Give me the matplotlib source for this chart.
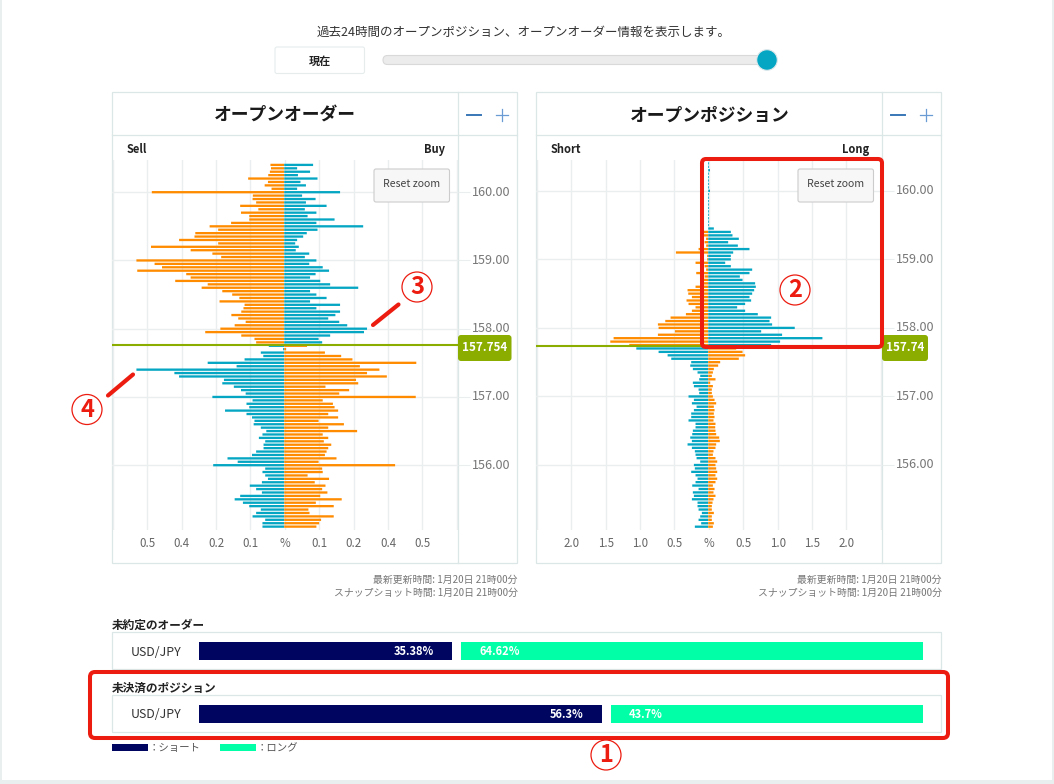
import numpy as np
import matplotlib
matplotlib.use("Agg")
import matplotlib.pyplot as plt
from matplotlib.patches import FancyBboxPatch, Rectangle, Circle, Polygon

plt.rcParams['font.family'] = ['Noto Sans CJK JP', 'DejaVu Sans']

# ---------- data ----------
order_top_price = 160.40
order_sell = [
 .050,.048,.052,.058,.131,.059,.071,.046,.481,.114,.115,.102,.160,.094,.157,.127,.127,.193,.271,.240,
 .323,.326,.382,.240,.484,.340,.261,.229,.537,.471,.444,.534,.356,.340,.396,.278,.300,.225,.189,.163,
 .235,.144,.148,.156,.192,.167,.140,.180,.232,.287,.156,.108,.102,.056,
 .004,.085,.076,.144,.278,.173,.537,.399,.382,.219,.225,.183,.157,.140,.261,.115,.137,.127,.215,.137,
 .117,.108,.111,.085,.065,.079,.092,.069,.075,.075,.102,.117,.206,.169,.258,.069,.079,.069,.059,.081,
 .125,.102,.081,.160,.180,.150,.127,.085,.102,.115,.069,.079,.079]
order_buy = [
 .105,.047,.094,.050,.121,.059,.079,.047,.203,.065,.114,.079,.154,.075,.117,.085,.183,.117,.287,.121,
 .082,.069,.047,.040,.053,.042,.091,.075,.117,.091,.140,.163,.114,.094,.131,.167,.269,.094,.117,.154,
 .094,.203,.117,.203,.186,.160,.200,.229,.301,.290,.167,.125,.138,.083,
 .007,.148,.207,.248,.480,.275,.346,.301,.373,.261,.269,.150,.236,.200,.478,.140,.177,.183,.196,.160,
 .196,.125,.217,.160,.265,.140,.160,.144,.171,.160,.154,.148,.190,.125,.403,.138,.140,.085,.163,.111,
 .150,.138,.157,.131,.209,.115,.180,.088,.092,.180,.134,.127,.117]

position_top_price = 160.45
position_short = [
 0,0,0,0,0,0,0,0,0,0,0,0,0,0,0,0,0,0,0,0,
 0,.073,.073,.030,.053,.029,.140,.469,.015,.015,.184,.053,.030,.174,.053,.063,.063,.184,.300,.290,
 .237,.315,.286,.184,.237,.324,.547,.624,.731,.721,.484,.731,1.375,1.423,1.147,
 1.045,.721,.590,.537,.247,.261,.223,.155,.116,.131,.223,.208,.140,.131,.286,.208,.237,.169,.208,.247,
 .247,.286,.184,.184,.223,.232,.261,.237,.300,.237,.194,.184,.169,.116,.208,.194,.247,.184,.155,.184,
 .232,.140,.223,.208,.237,.155,.155,.140,.092,.116,.140,.102,.194]
position_long = [
 .012,.012,.012,.026,.012,.012,.012,.012,.012,.026,.012,.012,.012,.012,.012,.012,.012,.012,.012,.012,
 .082,.329,.353,.445,.290,.431,.600,.363,.329,.329,.247,.329,.639,.600,.460,.499,.682,.692,.668,.639,
 .600,.624,.537,.421,.537,.721,.915,.891,.929,1.258,.770,1.074,1.660,1.045,.915,
 .407,.499,.537,.445,.174,.145,.082,.068,.053,.106,.029,.068,.053,.053,.068,.092,.116,.082,.092,.082,
 .092,.077,.106,.102,.106,.116,.160,.169,.116,.106,.077,.068,.106,.131,.106,.116,.131,.106,.131,.106,
 .068,.092,.077,.106,.077,.063,.053,.053,.082,.053,.053,.082,.068]

order_rate, position_rate = 157.754, 157.74
price_ticks = [160, 159, 158, 157, 156]
order_step = 0.125
position_step = 0.5

pair = ['USD/JPY', 'USD/JPY']
short_share = [35.38, 56.3]
long_share = [64.62, 43.7]
short_labels = ['35.38%', '56.3%']
long_labels = ['64.62%', '43.7%']

ORANGE, TEAL = '#ff8c00', '#04a6c3'
NAVY, MINT = '#000660', '#00ffa6'
LIME = '#8aad00'
RED = '#ec1c10'
GRID = '#ebeeee'
FRAME = '#dbe6e6'
W, H = 1054, 784

fig = plt.figure(figsize=(W / 100, H / 100), dpi=100, facecolor='#e9eeee')

def pix_axes(z):
    a = fig.add_axes([0, 0, 1, 1], zorder=z)
    a.set_xlim(0, W); a.set_ylim(H, 0); a.axis('off')
    a.patch.set_alpha(0)
    return a

def rbox(a, x0, y0, x1, y1, r=0, **kw):
    a.add_patch(FancyBboxPatch((x0, y0), x1 - x0, y1 - y0,
                               boxstyle=f'round,pad=0,rounding_size={r}', **kw))

bg = pix_axes(0)
fg = pix_axes(5)

# page card
bg.add_patch(Rectangle((2, 0), 1050, 780, fc='white', ec='none'))

# header
bg.text(524, 32, '過去24時間のオープンポジション、オープンオーダー情報を表示します。',
        ha='center', va='center', fontsize=9, color='#333333')
rbox(bg, 275, 47, 364.5, 73.5, 2, fc='white', ec='#e6ecec', lw=0.8)
bg.text(320, 61, '現在', ha='center', va='center', fontsize=8, weight='bold', color='#222222')
rbox(bg, 383, 55.5, 770, 64.5, 4.5, fc='#ececec', ec='#d9d9d9', lw=0.8)
bg.add_patch(Circle((767, 60), 10.3, fc='#04a6c3', ec='#dfe8ea', lw=0.8, zorder=3))

# panels
panels = [(112, 517, 458, 'オープンオーダー', 'Sell', 'Buy', '157.754', 511.5, 285),
          (536, 941, 882, 'オープンポジション', 'Short', 'Long', '157.74', 928, 710)]
for x0, x1, xd, title, lt, rt, tag, tagx, cx in panels:
    bg.add_patch(Rectangle((x0, 92), x1 - x0, 471, fc='white', ec=FRAME, lw=0.9))
    bg.plot([x0, x1], [135, 135], color=FRAME, lw=0.9)
    bg.plot([xd, xd], [92, 563], color=FRAME, lw=0.9)
    bg.text(cx, 116, title, ha='center', va='center', fontsize=12.8, weight='bold', color='#1a1a1a')
    bg.text(x0 + 15, 149.5, lt, ha='left', va='center', fontsize=8, weight='bold', color='#222222')
    bg.text(xd - 13, 149.5, rt, ha='right', va='center', fontsize=8, weight='bold', color='#222222')
    bg.plot([xd + 9, xd + 23], [115, 115], color='#3a77b7', lw=1.4)
    bg.plot([xd + 38, xd + 50], [115, 115], color='#6a9bd2', lw=0.9)
    bg.plot([xd + 44, xd + 44], [109, 121], color='#6a9bd2', lw=0.9)
    # price tag
    fg.add_patch(Polygon([[xd - 1, 345], [xd + 3, 341], [xd + 3, 349]], fc=LIME, ec='none'))
    rbox(fg, xd, 335, tagx, 361, 3, fc=LIME, ec='none')
    fg.text((xd + tagx) / 2, 347, tag, ha='center', va='center', fontsize=8.4,
            weight='bold', color='white')
    # reset zoom
    rbox(fg, xd - 84, 169, xd - 8.5, 202, 2, fc='#f7f7f7', ec='#cccccc', lw=0.8)
    fg.text(xd - 46, 183.5, 'Reset zoom', ha='center', va='center', fontsize=7.6, color='#444444')
    # footer
    bg.text(x1 + 0.5, 579.5, '最新更新時間: 1月20日 21時00分', ha='right', va='center', fontsize=7.1, color='#777777')
    bg.text(x1 + 0.5, 592.5, 'スナップショット時間: 1月20日 21時00分', ha='right', va='center', fontsize=7.1, color='#777777')


def pyramid(x_left, x_zero, x_right, y_at_160, px_per_unit, step, top_price,
            left_vals, right_vals, rate):
    px_step = 34.4
    ax = fig.add_axes([x_left / W, 1 - 530 / H, (x_right - x_left) / W, 370 / H], zorder=2)
    ax.patch.set_alpha(0)
    ax.set_xlim((x_left - x_zero) / px_step * step, (x_right - x_zero) / px_step * step)
    ax.set_ylim(160 - (530 - y_at_160) / px_per_unit, 160 + (y_at_160 - 160) / px_per_unit)
    left_vals, right_vals = np.array(left_vals), np.array(right_vals)
    prices = top_price - 0.05 * np.arange(len(left_vals))
    above = prices > rate
    left_col = np.where(above, ORANGE, TEAL)
    right_col = np.where(above, TEAL, ORANGE)
    bh = 2.3 / px_per_unit
    base = -0.6 * step / 34.4
    for vals, cols, sign in ((left_vals, left_col, -1), (right_vals, right_col, 1)):
        bars = ax.barh(prices, sign * vals, height=bh, color=cols, left=base, lw=0, zorder=3)
        for b in bars:
            b.set_snap(False)
    ax.axhline(rate, color=LIME, lw=1.5, zorder=4)
    ticks = np.arange(-5, 6) * step
    ax.set_xticks(ticks)
    ax.set_xticklabels(['%' if t == 0 else ('' if abs(t) > 4 * step else f'{abs(t):.1f}') for t in ticks],
                       fontsize=8.3, color='#666666')
    ax.set_yticks(price_ticks)
    ax.set_yticklabels([f'{p:.2f}' for p in price_ticks], fontsize=9.1, color='#777777')
    ax.yaxis.tick_right()
    ax.tick_params(axis='x', length=0, pad=5)
    ax.tick_params(axis='y', length=8.6, width=0.8, color=GRID, pad=1.5)
    for lab in ax.get_yticklabels():
        lab.set_verticalalignment('center')
    ax.grid(True, color=GRID, lw=1.0, zorder=0)
    ax.set_axisbelow(True)
    for s in ax.spines.values():
        s.set_visible(False)
    return ax

pyramid(112, 284.8, 458, 192.2, 68.25, order_step, order_top_price, order_sell, order_buy, order_rate)
pyramid(536, 708.8, 882, 190.8, 68.55, position_step, position_top_price, position_short, position_long, position_rate)

# bottom share section
bg.text(112, 625, '未約定のオーダー', ha='left', va='center', fontsize=8.4, weight='bold', color='#222222')
bg.text(112, 688, '未決済のポジション', ha='left', va='center', fontsize=8.4, weight='bold', color='#222222')
bg.add_patch(Rectangle((112, 632), 829, 37, fc='white', ec=FRAME, lw=0.9))
bg.add_patch(Rectangle((112, 695), 829, 37, fc='white', ec=FRAME, lw=0.9))

gap = 9 / 715 * 100
sx = fig.add_axes([199 / W, 1 - 723 / H, 724 / W, 81 / H], zorder=2)
sx.patch.set_alpha(0)
sx.set_xlim(0, 100 + gap)
sx.set_ylim(1 + 9 / 63, -9 / 63)
sx.axis('off')
rows = np.arange(len(pair))
sx.barh(rows, short_share, height=18 / 63, color=NAVY, lw=0)
sx.barh(rows, long_share, left=np.array(short_share) + gap, height=18 / 63, color=MINT, lw=0)
for r, s, sl, ll in zip(rows, short_share, short_labels, long_labels):
    sx.annotate(sl, (s, r), xytext=(-13, -0.5), textcoords='offset points', ha='right', va='center',
                fontsize=8, weight='bold', color='white')
    sx.annotate(ll, (s + gap, r), xytext=(13, -0.5), textcoords='offset points', ha='left', va='center',
                fontsize=8, weight='bold', color='white')
    bg.text(156, 652 + 63 * r, pair[r], ha='center', va='center', fontsize=8.9, color='#333333')

# legend
bg.add_patch(Rectangle((112, 744), 36, 7, fc=NAVY, ec='none'))
bg.text(148.5, 748, '：ショート', ha='left', va='center', fontsize=7.5, color='#555555')
bg.add_patch(Rectangle((220, 744), 36, 7, fc=MINT, ec='none'))
bg.text(256.5, 748, '：ロング', ha='left', va='center', fontsize=7.5, color='#555555')

# red annotations
rbox(fg, 90, 672, 948, 738, 5, fc='none', ec=RED, lw=2.9)
rbox(fg, 702, 159, 882, 347, 4, fc='none', ec=RED, lw=2.9)
fg.plot([373, 398.5], [325, 304.5], color=RED, lw=3, solid_capstyle='round')
fg.plot([108, 133], [395.5, 374.5], color=RED, lw=3, solid_capstyle='round')
for n, (cx, cy) in zip('1234', [(606, 755), (795, 290), (417, 287), (87, 409.5)]):
    fg.add_patch(Circle((cx, cy), 15, fc='white', ec=RED, lw=0.9))
    fg.text(cx, cy, n, ha='center', va='center', fontsize=17, weight='bold', color=RED)

fig.savefig('out.png', dpi=100, facecolor=fig.get_facecolor())
